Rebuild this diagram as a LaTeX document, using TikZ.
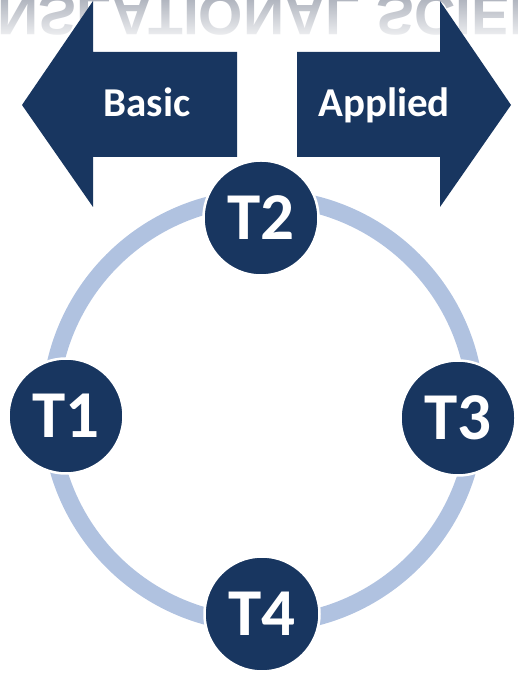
\documentclass[tikz,border=0pt]{standalone}
\usepackage{fontspec}
\setmainfont{Carlito}
\newfontfamily\reflfont{Liberation Sans}
\usetikzlibrary{fadings}
\definecolor{navy}{RGB}{24,54,96}
\definecolor{ringblue}{RGB}{176,194,224}
\definecolor{shadowgray}{RGB}{168,173,184}
\tikzfading[name=fade up, top color=transparent!100, bottom color=transparent!0]

\begin{document}
\begin{tikzpicture}[
      x=1pt,y=1pt,
      stage/.style={
         circle,
         minimum size=115pt,
         inner sep=0pt,
         fill=navy,
         draw=white,
         line width=2.5pt,
         text=white,
         font=\fontsize{67}{67}\selectfont\bfseries
      },
      band/.style={fill=navy},
      bandlabel/.style={
         anchor=base,
         inner sep=0pt,
         text=white,
         font=\fontsize{41}{41}\selectfont\bfseries
      },
      ring/.style={draw=ringblue, line width=17pt},
      mirror/.style={
         yscale=-1, transform shape,
         anchor=base west,
         inner sep=0pt,
         text=shadowgray,
         font=\reflfont\fontsize{57}{57}\selectfont\bfseries
      }
    ]
    \useasboundingbox (0,0) rectangle (518,674);
    % reflected heading, fading out
    \begin{scope}
      \clip (0,0) rectangle (518,674);
      \node (title) [mirror] at (-120,678) {TRANSLATIONAL SCIENCE};
      \fill[white, path fading=fade up] (-2,628) rectangle (520,680);
    \end{scope}
    % the two direction arrows
    \fill[band] (237,517) -- (93,517) -- (93,467) -- (22,569) -- (93,673) -- (93,622) -- (237,622) -- cycle;
    \fill[band] (297,517) -- (440,517) -- (440,467) -- (511,569) -- (440,673) -- (440,622) -- (297,622) -- cycle;
    \node (basic) [bandlabel] at (147,557) {Basic};
    \node (applied) [bandlabel] at (384,557) {Applied};
    % cycle
    \coordinate (hub) at (263,263);
    \draw[ring] (hub) circle [radius=213pt];
    \node (t1) [stage] at (66,258) {T1};
    \node (t2) [stage] at (261,456) {T2};
    \node (t3) [stage] at (458,256) {T3};
    \node (t4) [stage] at (262,60) {T4};
\end{tikzpicture}
\end{document}
